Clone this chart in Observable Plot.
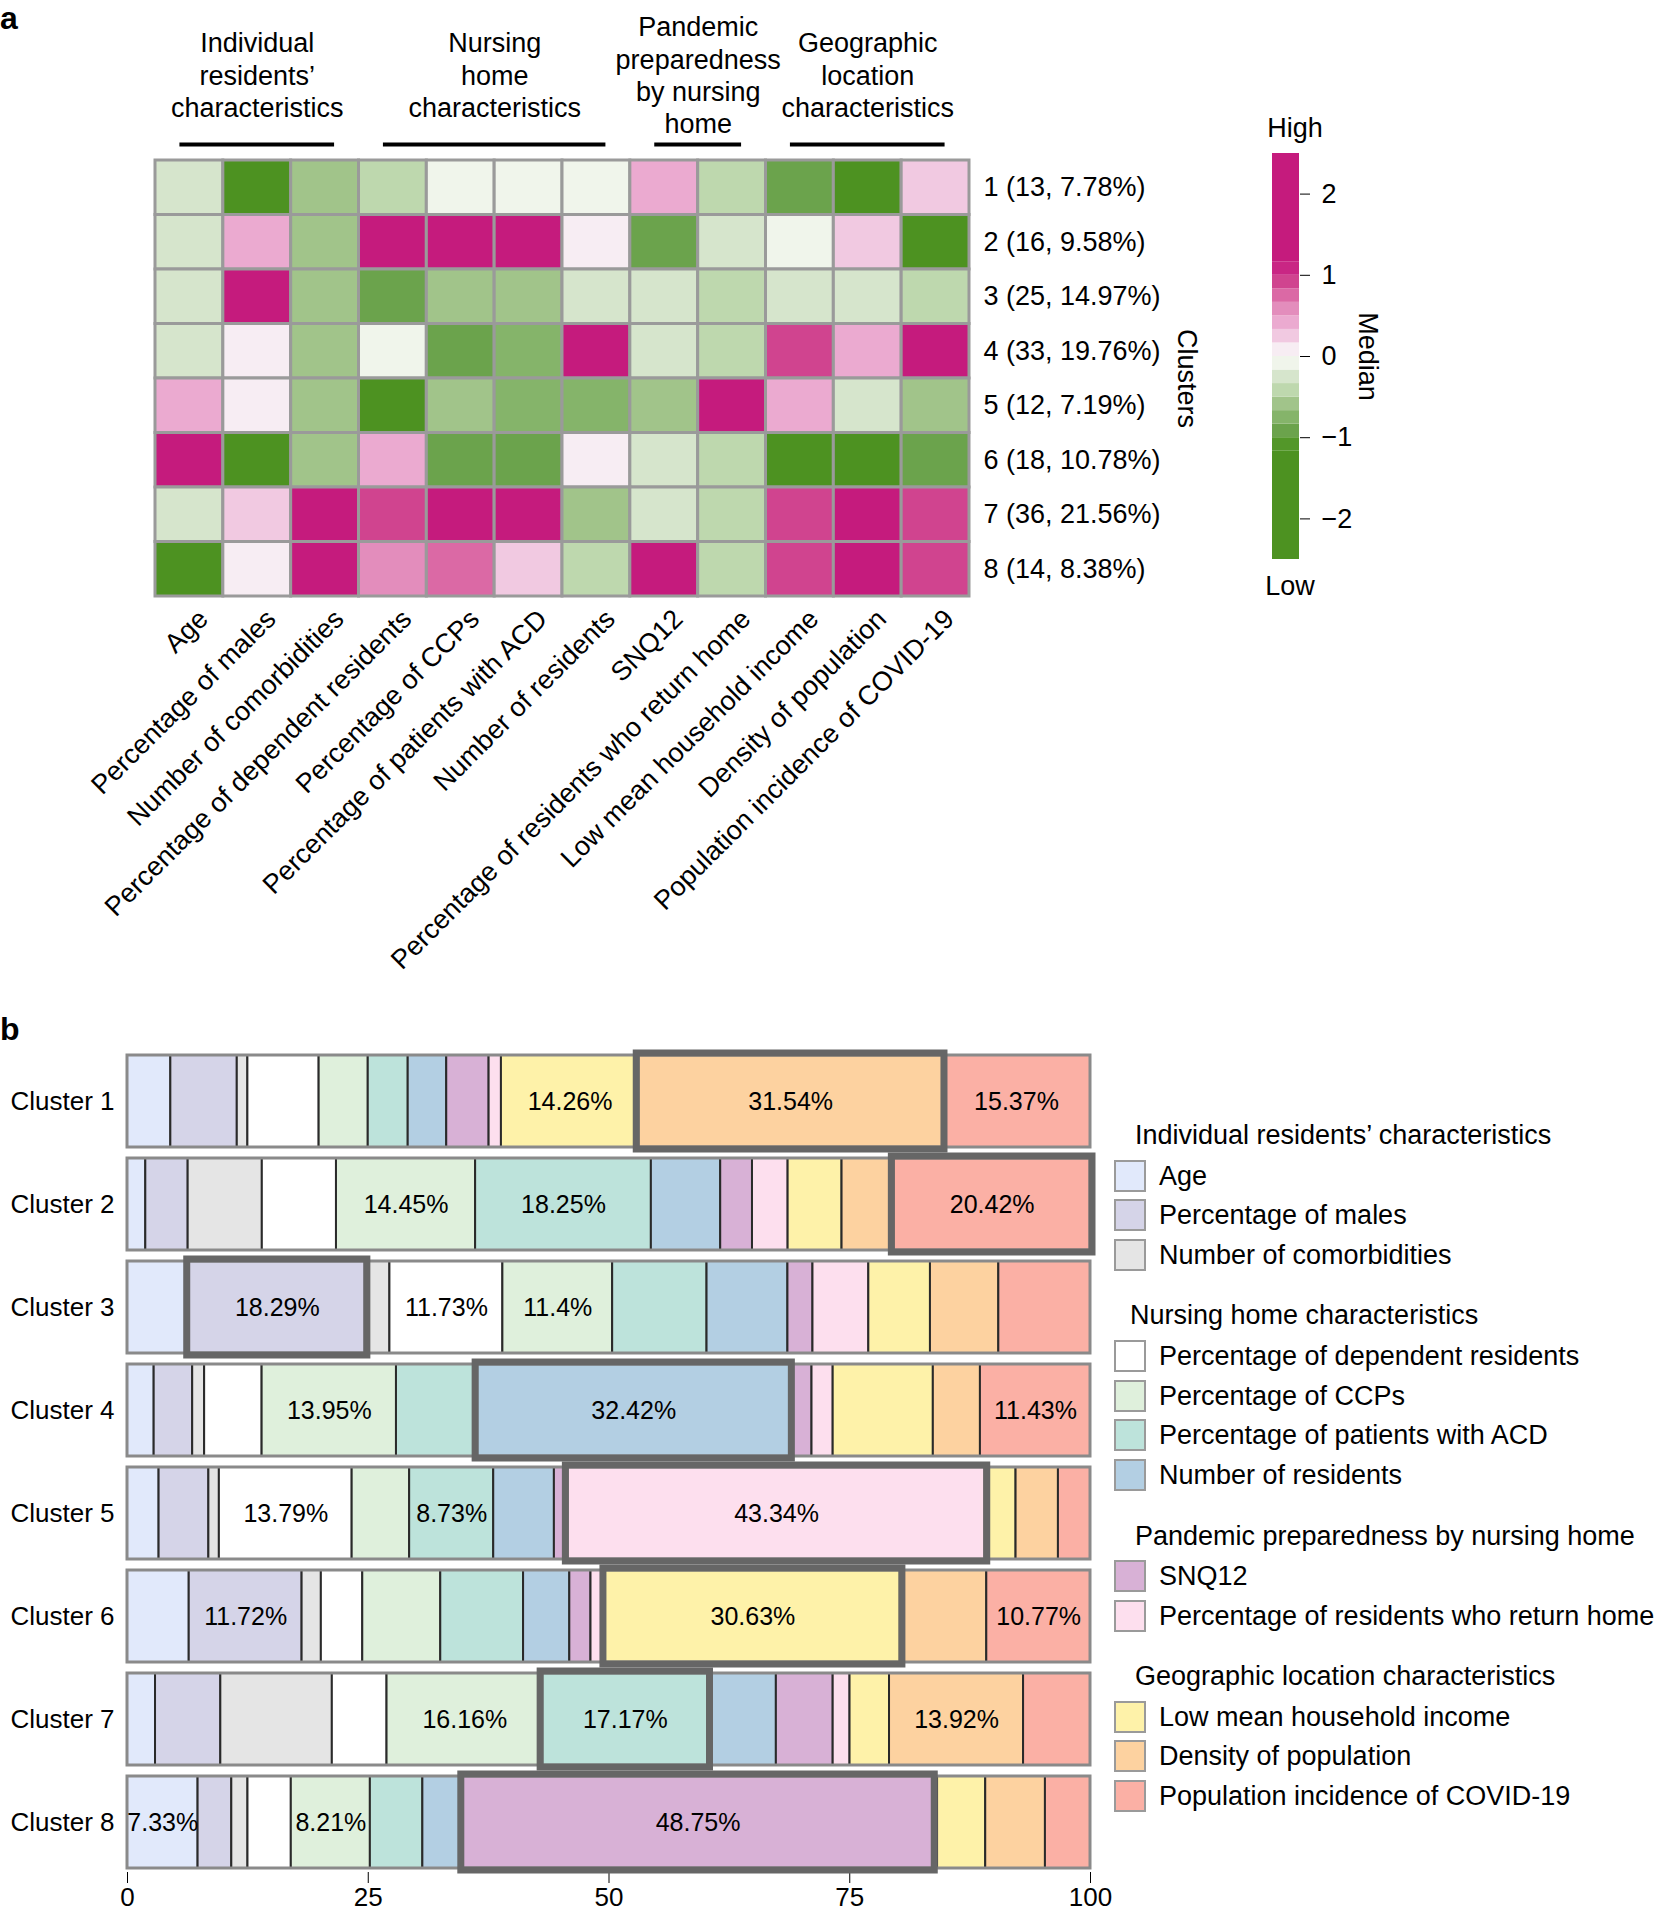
<!DOCTYPE html>
<html><head><meta charset="utf-8">
<script src="https://cdn.jsdelivr.net/npm/d3@7"></script>
<script src="https://cdn.jsdelivr.net/npm/@observablehq/plot@0.6"></script>
<style>
body{margin:0;background:#fff;font-family:"Liberation Sans",Arial,Helvetica,sans-serif;}
#root{position:relative;width:1655px;height:1913px;overflow:hidden;background:#fff;}
.abs{position:absolute;}
.panel{position:absolute;font-weight:bold;font-size:32px;line-height:36px;}
.lg-title{position:absolute;font-size:27px;white-space:nowrap;transform:translateY(-50%);}
.lg-item{position:absolute;font-size:27px;white-space:nowrap;transform:translateY(-50%);}
.lg-sw{position:absolute;width:32px;height:32px;box-sizing:border-box;border:2px solid #9a9a9a;transform:translateY(-50%);}
</style></head><body><div id="root"></div>
<script>
// ---------- data ----------
const variables = ["Age","Percentage of males","Number of comorbidities","Percentage of dependent residents","Percentage of CCPs","Percentage of patients with ACD","Number of residents","SNQ12","Percentage of residents who return home","Low mean household income","Density of population","Population incidence of COVID-19"];
const groupHeaders = ["Individual\nresidents’\ncharacteristics","Nursing\nhome\ncharacteristics","Pandemic\npreparedness\nby nursing\nhome","Geographic\nlocation\ncharacteristics"];
const groupTitles = ["Individual residents’ characteristics","Nursing home characteristics","Pandemic preparedness by nursing home","Geographic location characteristics"];
const groupSizes = [3,4,2,3];
const clusterIds = [1,2,3,4,5,6,7,8];
const clusterSizes = [13,16,25,33,12,18,36,14];
const clusterShares = [7.78,9.58,14.97,19.76,7.19,10.78,21.56,8.38];
const medians = [
  [-0.25,-1.5,-0.58,-0.42,-0.08,-0.08,-0.08,0.42,-0.42,-0.92,-1.5,0.25],
  [-0.25,0.42,-0.58,1.5,1.5,1.5,0.08,-0.92,-0.25,-0.08,0.25,-1.5],
  [-0.25,1.5,-0.58,-0.92,-0.58,-0.58,-0.25,-0.25,-0.42,-0.25,-0.25,-0.42],
  [-0.25,0.08,-0.58,-0.08,-0.92,-0.75,1.5,-0.25,-0.42,0.92,0.42,1.5],
  [0.42,0.08,-0.58,-1.5,-0.58,-0.75,-0.75,-0.58,1.5,0.42,-0.25,-0.58],
  [1.5,-1.5,-0.58,0.42,-0.92,-0.92,0.08,-0.25,-0.42,-1.5,-1.5,-0.92],
  [-0.25,0.25,1.5,0.92,1.5,1.5,-0.58,-0.25,-0.42,0.92,1.5,0.92],
  [-1.5,0.08,1.5,0.58,0.75,0.25,-0.42,1.5,-0.42,0.92,1.5,0.92]
];
const medianDomain = [-2.5, 2.5];
const medianTicks = [-2,-1,0,1,2];
const colorThresholds = [-7/6,-1,-5/6,-4/6,-3/6,-2/6,-1/6,0,1/6,2/6,3/6,4/6,5/6,1,7/6];
const colorRange = ["#4D9221","#539729","#6BA34C","#85B46A","#A1C48A","#BED8AE","#D6E5CC","#F0F5EB","#F7EDF3","#F1C9E1","#EBAAD0","#E38DBC","#DB69A5","#D0448F","#C92684","#C51B7D"];
const segmentColors = ["#E1E9FB","#D5D4E8","#E5E5E5","#FFFFFF","#DFF0DC","#BDE3DB","#B3CFE3","#D8B1D6","#FDDFEE","#FEF2A9","#FDD2A0","#FBB0A5"];
const clusterLabels = clusterIds.map(d => `Cluster ${d}`);
const shares = [
  [4.5,6.9,1.1,7.4,5.1,4.15,4.0,4.4,1.28,14.26,31.54,15.37],
  [1.9,4.4,7.7,7.7,14.45,18.25,7.2,3.3,3.7,5.6,5.38,20.42],
  [6.41,18.29,2.55,11.73,11.4,9.8,8.4,2.6,5.8,6.4,7.1,9.52],
  [2.77,4.0,1.24,5.97,13.95,8.43,32.42,2.3,2.2,10.4,4.89,11.43],
  [3.28,5.17,1.09,13.79,5.97,8.73,6.3,1.4,43.34,3.2,4.4,3.33],
  [6.41,11.72,2.0,4.3,8.1,8.6,4.8,2.2,1.5,30.63,8.97,10.77],
  [2.91,6.78,11.58,5.68,16.16,17.17,7.1,5.9,1.75,4.1,13.92,6.95],
  [7.33,3.5,1.68,4.5,8.21,5.45,4.2,48.75,0.5,5.0,6.2,4.68]
];
const labelled = [[9,10,11],[4,5,11],[1,3,4],[4,6,11],[3,5,8],[1,9,11],[4,5,10],[0,4,7]];
const shareTicks = [0,25,50,75,100];

// ---------- helpers ----------
const FONT = "'Liberation Sans', Arial, Helvetica, sans-serif";
const root = document.getElementById("root");
function place(node, left, top) {
  const d = document.createElement("div");
  d.className = "abs"; d.style.left = left + "px"; d.style.top = top + "px";
  d.appendChild(node); root.appendChild(d); return d;
}
const minus = d => d < 0 ? "\u2212" + Math.abs(d) : String(d);

// ---------- panel a: heatmap ----------
const cells = [];
medians.forEach((row, r) => row.forEach((v, c) => cells.push({row: r, col: c, value: v})));
let acc = 0;
const groups = groupSizes.map((n, i) => { const g = {name: groupHeaders[i], start: acc, end: acc + n}; acc += n; return g; });

const heat = Plot.plot({
  width: 1655, height: 990,
  marginLeft: 155, marginRight: 686, marginTop: 160, marginBottom: 394,
  style: {fontFamily: FONT, fontSize: "27px", background: "none", overflow: "visible"},
  x: {domain: [0, variables.length], axis: null},
  y: {domain: [clusterIds.length, 0], axis: null},
  color: {type: "threshold", domain: colorThresholds, range: colorRange},
  marks: [
    Plot.rect(cells, {x1: d => d.col, x2: d => d.col + 1, y1: d => d.row, y2: d => d.row + 1, fill: "value", stroke: "#9a9a9a", strokeWidth: 3}),
    Plot.text(clusterIds, {x: () => variables.length, y: (d, i) => i + 0.5, text: (d, i) => `${d} (${clusterSizes[i]}, ${clusterShares[i].toFixed(2)}%)`, textAnchor: "start", dx: 14, fontSize: 27, fill: "black"}),
    Plot.text(["Clusters"], {x: () => variables.length, y: () => clusterIds.length / 2, dx: 217, rotate: 90, fontSize: 27, fill: "black"}),
    Plot.text(variables, {x: (d, i) => i + 0.5, y: () => clusterIds.length, rotate: -45, textAnchor: "end", dx: 14, dy: 18, fontSize: 27, fill: "black"}),
    Plot.text(groups, {x: g => (g.start + g.end) / 2, y: () => 0, text: "name", dy: -86, lineAnchor: "middle", lineHeight: 1.2, fontSize: 27, fill: "black"}),
    Plot.ruleY(groups, {y: () => 0, x1: g => g.start + 0.36, x2: g => g.end - 0.36, dy: -16, stroke: "black", strokeWidth: 4})
  ]
});
place(heat, 0, 0);

// ---------- color legend ----------
const bands = colorRange.map((c, i) => ({
  lo: i === 0 ? medianDomain[0] : colorThresholds[i - 1],
  hi: i === colorRange.length - 1 ? medianDomain[1] : colorThresholds[i],
  color: c
}));
const cleg = Plot.plot({
  width: 200, height: 520,
  marginLeft: 32, marginRight: 141, marginTop: 53, marginBottom: 61,
  style: {fontFamily: FONT, fontSize: "27px", background: "none", overflow: "visible"},
  x: {domain: [0, 1], axis: null},
  y: {domain: medianDomain, ticks: medianTicks, tickFormat: minus, tickSize: 10, tickPadding: 12, label: null, axis: "right"},
  color: {type: "identity"},
  marks: [
    Plot.rect(bands, {x1: () => 0, x2: () => 1, y1: "lo", y2: "hi", fill: "color"}),
    Plot.text(["High"], {frameAnchor: "top", lineAnchor: "middle", dy: -25, dx: 9, fontSize: 27, fill: "black"}),
    Plot.text(["Low"], {frameAnchor: "bottom", lineAnchor: "middle", dy: 27, dx: 4, fontSize: 27, fill: "black"}),
    Plot.text(["Median"], {x: () => 1, y: () => 0, dx: 68, rotate: 90, fontSize: 27, fill: "black"})
  ]
});
place(cleg, 1240, 100);

// ---------- panel b: stacked bars ----------
const segs = [];
shares.forEach((row, r) => {
  let x = 0;
  const mx = Math.max(...row);
  row.forEach((v, c) => {
    segs.push({cluster: clusterLabels[r], v: c, value: v, x1: x, x2: x + v, max: v === mx, lab: labelled[r].includes(c)});
    x += v;
  });
});
const totals = shares.map((row, r) => ({cluster: clusterLabels[r], total: d3.sum(row)}));

const bars = Plot.plot({
  width: 1100, height: 883,
  marginLeft: 127, marginRight: 10, marginTop: 22, marginBottom: 41,
  style: {fontFamily: FONT, fontSize: "26px", background: "none", overflow: "visible", color: "black"},
  x: {domain: [0, 100], ticks: shareTicks, tickSize: 11, tickPadding: 4, label: null},
  y: {type: "band", domain: clusterLabels, paddingInner: 0.105, paddingOuter: 0, tickSize: 0, tickPadding: 13, label: null},
  color: {type: "identity"},
  marks: [
    Plot.barX(segs, {x1: "x1", x2: "x2", y: "cluster", fill: d => segmentColors[d.v], stroke: "#2a2a2a", strokeWidth: 2}),
    Plot.barX(totals, {x1: () => 0, x2: "total", y: "cluster", fill: "none", stroke: "#8a8a8a", strokeWidth: 3}),
    Plot.barX(segs.filter(d => d.max), {x1: "x1", x2: "x2", y: "cluster", fill: "none", stroke: "#666", strokeWidth: 7, inset: -2}),
    Plot.text(segs.filter(d => d.lab), {x: d => (d.x1 + d.x2) / 2, y: "cluster", text: d => `${d.value}%`, fontSize: 25, fill: "black"})
  ]
});
place(bars, 0, 1030);

// ---------- legend b ----------
let yy = 1135, vi = 0;
groupSizes.forEach((n, gi) => {
  const t = document.createElement("div");
  t.className = "lg-title"; t.textContent = groupTitles[gi];
  t.style.left = (gi === 1 ? 1130 : 1135) + "px"; t.style.top = yy + "px";
  root.appendChild(t);
  yy += 40.5;
  for (let k = 0; k < n; k++, vi++) {
    const s = document.createElement("div");
    s.className = "lg-sw"; s.style.left = "1114px"; s.style.top = yy + "px"; s.style.background = segmentColors[vi];
    root.appendChild(s);
    const l = document.createElement("div");
    l.className = "lg-item"; l.textContent = variables[vi]; l.style.left = "1159px"; l.style.top = yy + "px";
    root.appendChild(l);
    if (k < n - 1) yy += 39.7;
  }
  yy += 60.5;
});

// ---------- panel letters ----------
const a = document.createElement("div"); a.className = "panel"; a.textContent = "a"; a.style.left = "0px"; a.style.top = "0px"; root.appendChild(a);
const b = document.createElement("div"); b.className = "panel"; b.textContent = "b"; b.style.left = "0px"; b.style.top = "1011px"; root.appendChild(b);
</script>
</body></html>
